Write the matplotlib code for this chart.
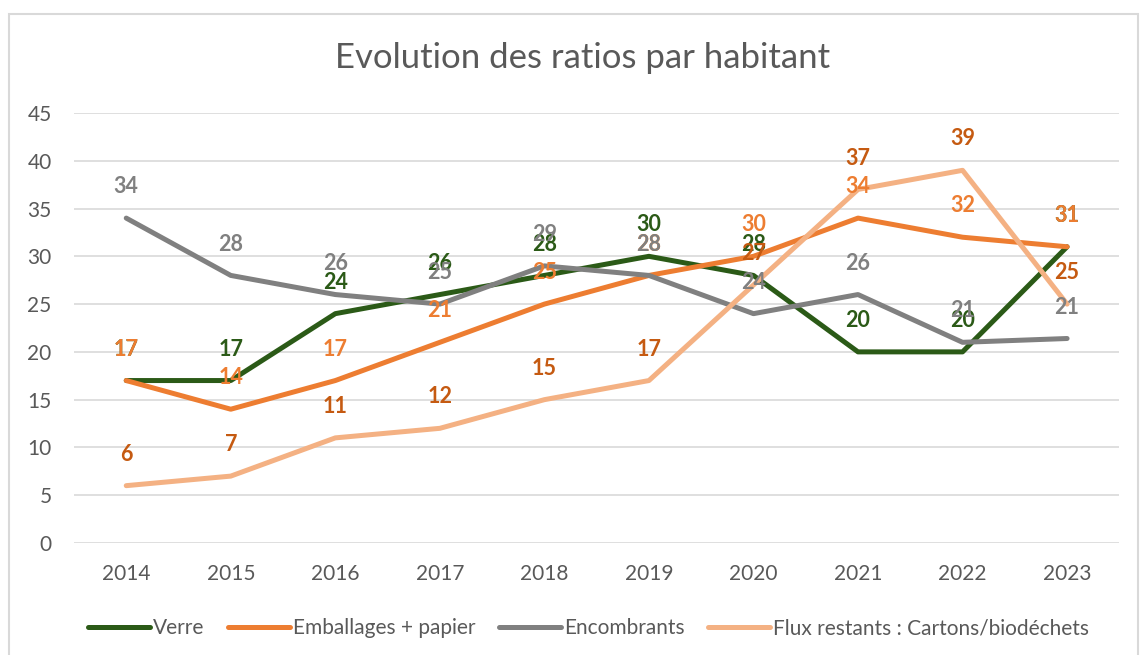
import numpy as np
import matplotlib.pyplot as plt
from matplotlib.lines import Line2D

plt.rcParams['font.family'] = ['Lato', 'DejaVu Sans']

# yearly ratios per inhabitant
years = ['2014', '2015', '2016', '2017', '2018', '2019', '2020', '2021', '2022', '2023']
verre = [17, 17, 24, 26, 28, 30, 28, 20, 20, 31]
emballages = [17, 14, 17, 21, 25, 28, 30, 34, 32, 31]
encombrants = [34, 28, 26, 25, 29, 28, 24, 26, 21, 21.4]
flux_restants = [6, 7, 11, 12, 15, 17, 27, 37, 39, 25]

names = ['Verre', 'Emballages + papier', 'Encombrants',
         'Flux restants : Cartons/biodéchets']
series = [verre, emballages, encombrants, flux_restants]
line_colors = ['#2B5A17', '#ED7D31', '#808080', '#F4B183']
label_colors = ['#2B5A17', '#ED7D31', '#808080', '#C55A11']

fig = plt.figure(figsize=(11.45, 6.55), dpi=100)
ax = fig.add_axes([0.0646, 0.171, 0.913, 0.6565])

x = np.arange(len(years))
for vals, name, lc in zip(series, names, line_colors):
    ax.plot(x, vals, color=lc, lw=3.6, solid_capstyle='round',
            solid_joinstyle='round', label=name, zorder=3)

# value labels above each point
for vals, tc in zip(series, label_colors):
    for xi, v in zip(x, vals):
        ax.annotate('%.0f' % v, (xi, v), xytext=(0, 15), textcoords='offset points',
                    ha='center', va='bottom', color=tc, fontsize=15.5,
                    fontweight='bold', zorder=5)

ax.set_xlim(-0.5, len(years) - 0.5)
ax.set_ylim(0, 45)
ax.set_yticks(np.arange(0, 46, 5))
ax.set_xticks(x)
ax.set_xticklabels(years)
ax.tick_params(axis='both', length=0, labelsize=15, labelcolor='#595959')
ax.tick_params(axis='y', pad=16)
ax.tick_params(axis='x', pad=15)
ax.grid(axis='y', color='#D9D9D9', lw=1.2)
ax.set_axisbelow(True)
for s in ax.spines.values():
    s.set_visible(False)

fig.text(0.509, 0.911, 'Evolution des ratios par habitant', ha='center', va='center',
         fontsize=25, color='#595959')

handles = [Line2D([], [], color=c, lw=3.6, solid_capstyle='round') for c in line_colors]
fig.legend(handles, names, loc='center', bbox_to_anchor=(0.514, 0.041), ncol=4,
           frameon=False, fontsize=15, labelcolor='#595959', handlelength=3.0,
           handletextpad=0.15, columnspacing=1.1)

# chart frame
fig.add_artist(plt.Rectangle((9 / 1145, -0.01), 1129 / 1145, 1 - 14 / 655 + 0.01,
                             transform=fig.transFigure, fill=False,
                             edgecolor='#D9D9D9', lw=1.5))

fig.savefig('out.png', dpi=100)
